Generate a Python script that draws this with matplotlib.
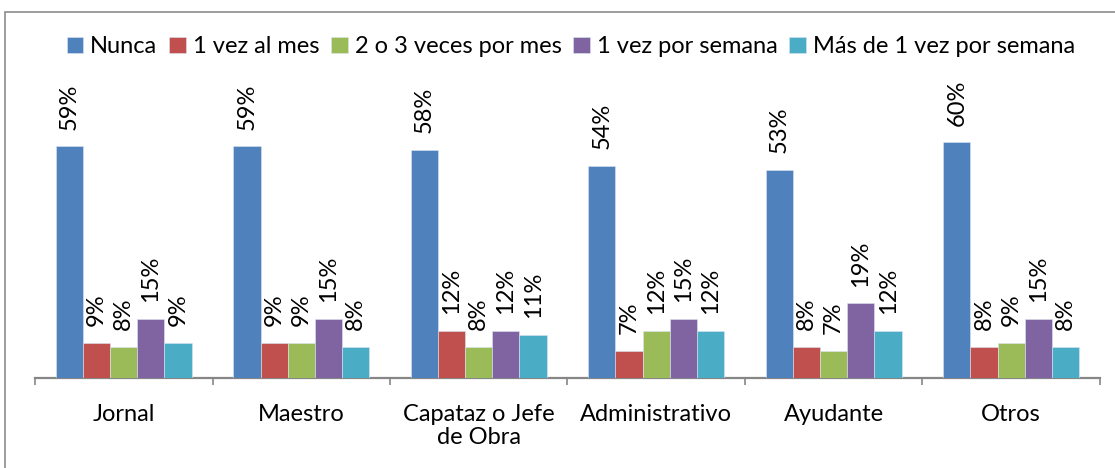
import matplotlib
matplotlib.use("Agg")
import matplotlib.pyplot as plt
from matplotlib.patches import Rectangle
import numpy as np

categories = ["Jornal", "Maestro", "Capataz o Jefe\nde Obra", "Administrativo", "Ayudante", "Otros"]
series_names = ["Nunca", "1 vez al mes", "2 o 3 veces por mes", "1 vez por semana", "Más de 1 vez por semana"]

nunca = [59, 59, 58, 54, 53, 60]
una_vez_mes = [9, 9, 12, 7, 8, 8]
dos_tres_mes = [8, 9, 8, 12, 7, 9]
una_vez_semana = [15, 15, 12, 15, 19, 15]
mas_una_semana = [9, 8, 11, 12, 12, 8]

colors = ["#4F81BD", "#C0504D", "#9BBB59", "#8064A2", "#4BACC6"]

plt.rcParams['font.family'] = ['Lato', 'DejaVu Sans']
fs = 17

fig = plt.figure(figsize=(11.15, 4.68), dpi=100)
ax = fig.add_axes([0.0314, 0.1923, 0.9551, 0.5876])

# outer chart border (right/bottom edges fall outside the picture)
fig.patches.append(Rectangle((5 / 1115, -0.1), 1.2, 1 - 12 / 468 + 0.1,
                             transform=fig.transFigure, fill=False,
                             edgecolor="#8c8c8c", linewidth=1.2))

all_series = [nunca, una_vez_mes, dos_tres_mes, una_vez_semana, mas_una_semana]
x = np.arange(len(categories))
w = 0.153

for i, (vals, name, c) in enumerate(zip(all_series, series_names, colors)):
    pos = x + (i - 2) * w
    ax.bar(pos, vals, width=w, color=c, edgecolor="#dbe5f1", linewidth=0.4, label=name, zorder=3)
    for px, v in zip(pos, vals):
        ax.annotate("{}%".format(v), (px, v), xytext=(0, 12), textcoords="offset points",
                    rotation=90, ha="center", va="bottom", fontsize=fs, clip_on=False)

ax.set_xlim(-0.5, 5.5)
ax.set_ylim(0, 70)
ax.set_yticks([])
for s in ["top", "left", "right"]:
    ax.spines[s].set_visible(False)
ax.spines["bottom"].set_color("#868686")
ax.spines["bottom"].set_linewidth(1.6)

ax.set_xticks(x)
ax.set_xticklabels(categories, fontsize=fs, linespacing=1.1, va="top")
ax.tick_params(axis="x", which="major", length=0, pad=19)
ax.set_xticks(np.arange(-0.5, 6, 1), minor=True)
ax.tick_params(axis="x", which="minor", length=5, width=1.2, color="#868686", direction="out")

fig.legend(loc="center", bbox_to_anchor=(0.512, 0.8996), ncol=5, frameon=False,
           fontsize=fs, handlelength=0.7, handleheight=0.7, handletextpad=0.3,
           columnspacing=0.5, borderaxespad=0)

fig.savefig("out.png", dpi=100)
